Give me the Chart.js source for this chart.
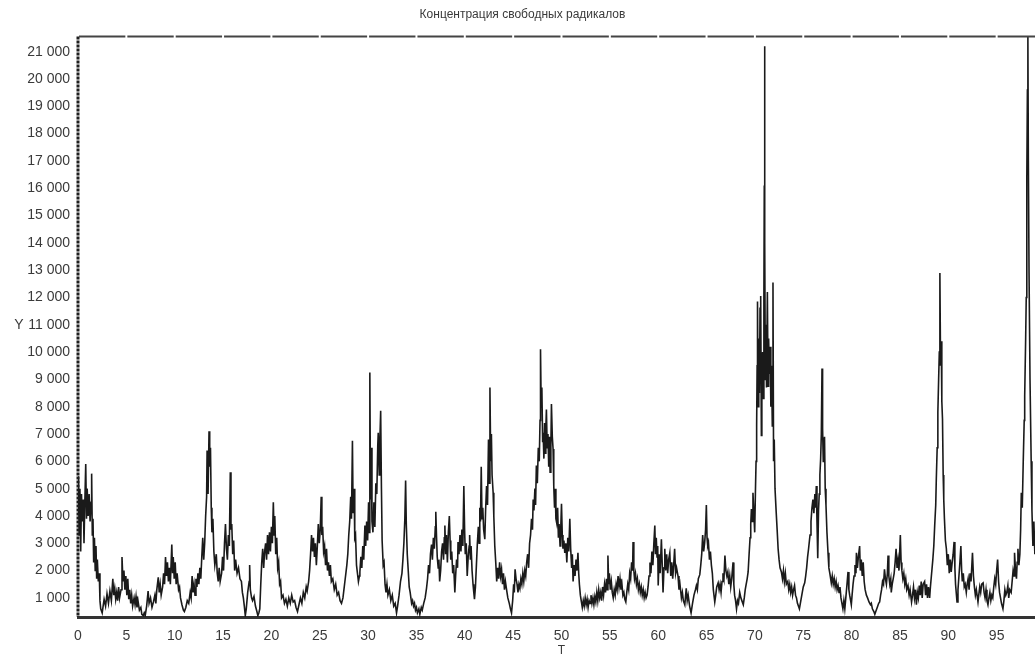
<!DOCTYPE html>
<html>
<head>
<meta charset="utf-8">
<script src="https://cdn.jsdelivr.net/npm/chart.js@4"></script>
<style>
  html, body { margin: 0; padding: 0; background: #fff; overflow: hidden; }
  #wrap { width: 1045px; height: 657px; }
</style>
</head>
<body>
<div id="wrap"><canvas id="chart"></canvas></div>
<script>
// Концентрация свободных радикалов
const chartTitle = 'Концентрация свободных радикалов';
const xTitle = 'T';
const yTitle = 'Y';
const yTitleAt = 11000;

const xTickValues = [0, 5, 10, 15, 20, 25, 30, 35, 40, 45, 50, 55, 60, 65, 70, 75, 80, 85, 90, 95];
const yTickValues = [1000, 2000, 3000, 4000, 5000, 6000, 7000, 8000, 9000, 10000, 11000,
  12000, 13000, 14000, 15000, 16000, 17000, 18000, 19000, 20000, 21000];

// [T, Y]
const radicals = [
  [0,4100],[0.05,5450],[0.12,3300],[0.2,5000],[0.28,2700],[0.36,4800],[0.45,3800],[0.55,4600],[0.62,3000],[0.7,4400],
  [0.8,5900],[0.88,3900],[0.95,5000],[1.05,4000],[1.15,4800],[1.25,3800],[1.35,4500],[1.41,5550],[1.48,3300],[1.55,3900],
  [1.62,2300],[1.7,3200],[1.78,2000],[1.86,2900],[1.93,1700],[2.0,2400],[2.1,1600],[2.2,1900],[2.27,900],[2.35,600],
  [2.5,450],[2.7,950],[2.85,700],[3.0,1150],[3.15,800],[3.3,1250],[3.45,900],[3.6,1700],[3.7,1100],[3.8,1350],
  [3.9,950],[4.0,1200],[4.1,900],[4.2,1400],[4.3,1000],[4.45,1300],[4.55,2500],[4.65,1600],[4.75,2000],[4.85,1300],
  [4.95,1800],[5.05,1100],[5.15,1700],[5.25,950],[5.35,1300],[5.45,800],[5.55,1100],[5.65,700],[5.8,1000],[5.9,750],
  [6.0,1050],[6.1,650],[6.2,900],[6.35,550],[6.5,650],[6.6,400],[6.75,350],[6.85,450],[6.95,350],
  [7.1,700],[7.25,1250],[7.35,800],[7.5,1000],[7.65,650],[7.8,850],[7.95,1100],[8.05,800],[8.15,1300],[8.3,1750],
  [8.4,1200],[8.5,1500],[8.6,1100],[8.75,1400],[8.85,1900],[8.95,1500],[9.05,2500],[9.15,1800],[9.25,2300],[9.35,1600],
  [9.45,2100],[9.55,1500],[9.7,2950],[9.78,1900],[9.85,2500],[9.95,1700],[10.05,2300],[10.15,1500],[10.25,1900],[10.4,1300],
  [10.5,1400],[10.6,1000],[10.75,750],[10.9,550],[11.0,500],
  [11.15,650],[11.3,900],[11.45,800],[11.6,1200],[11.7,1000],[11.8,1800],[11.9,1200],[12.0,1500],[12.1,1100],[12.2,1700],
  [12.3,1400],[12.4,1900],[12.5,1500],[12.6,2100],[12.7,1700],[12.8,2500],[12.9,3200],[13.0,2400],[13.1,3000],[13.2,4000],
  [13.3,4700],[13.35,6400],[13.45,4800],[13.55,7100],[13.62,5800],[13.7,6500],[13.78,4300],[13.85,3400],[13.95,3900],[14.05,2700],
  [14.15,2200],[14.3,2600],[14.4,1900],[14.5,1600],[14.6,2100],[14.7,1600],[14.85,1900],[14.95,2500],[15.05,2000],[15.15,3000],
  [15.25,3700],[15.35,2800],[15.45,2400],[15.55,3300],[15.65,2900],[15.75,5600],[15.82,3500],[15.9,3700],[16.0,2600],[16.1,3100],
  [16.2,2000],[16.3,2400],[16.45,1900],[16.6,2100],[16.75,1700],[16.9,1600],[17.0,1200],[17.1,1000],[17.2,700],[17.3,350],
  [17.4,600],[17.55,1200],[17.7,1600],[17.75,2200],[17.82,1300],[17.95,1000],[18.05,900],[18.2,1050],[18.35,700],[18.5,500],
  [18.6,350],[18.7,450],[18.8,600],
  [18.9,1500],[19.0,2300],[19.1,2800],[19.2,2100],[19.3,2700],[19.4,3000],[19.5,2400],[19.6,3300],[19.7,2600],[19.8,3400],
  [19.9,2700],[20.0,3600],[20.1,3000],[20.2,4500],[20.28,3300],[20.35,4000],[20.45,2600],[20.55,3200],[20.65,2100],[20.75,2300],
  [20.85,1500],[20.95,1600],[21.05,1000],[21.2,1100],[21.35,800],[21.5,950],[21.65,700],[21.8,1000],[21.95,800],[22.1,1100],
  [22.25,850],[22.4,900],[22.55,650],[22.7,500],[22.85,750],[23.0,1000],[23.15,800],[23.3,1200],[23.45,1000],[23.6,1400],
  [23.7,1250],[23.85,1600],[23.95,2000],
  [24.05,2600],[24.15,3300],[24.25,2700],[24.35,3200],[24.45,2500],[24.55,3000],[24.65,2200],[24.75,2900],[24.85,3700],[24.95,3000],
  [25.05,3500],[25.15,4700],[25.22,3300],[25.3,3600],[25.4,2700],[25.5,2900],[25.6,2200],[25.7,2800],[25.8,2000],[25.9,2300],
  [26.0,1800],[26.1,2200],[26.2,1600],[26.35,1700],[26.5,1300],[26.65,1500],[26.8,1100],[26.95,1200],[27.1,900],[27.25,800],
  [27.4,1000],[27.5,1300],[27.6,1600],[27.7,1900],[27.8,2200],[27.9,2600],[28.0,3300],[28.1,3800],[28.2,4700],[28.28,3900],
  [28.38,6750],[28.45,4100],[28.55,5000],[28.62,3200],[28.7,3300],[28.8,2200],[28.9,1900],[29.0,1600],[29.1,1800],
  [29.15,1950],[29.25,2500],[29.35,2100],[29.45,2900],[29.55,2400],[29.67,3650],[29.75,2900],[29.85,3800],[29.95,3100],[30.05,4500],
  [30.12,3400],[30.18,9250],[30.25,4600],[30.32,6500],[30.4,3800],[30.5,3400],[30.6,4500],[30.7,3600],[30.8,5200],[30.9,4800],
  [31.0,6600],[31.05,7050],[31.15,5500],[31.22,6800],[31.3,7850],[31.38,5000],[31.45,3100],[31.56,2200],[31.65,2300],[31.75,1500],
  [31.85,1200],[31.95,1500],[32.05,1100],[32.2,1300],[32.35,900],[32.5,1100],[32.65,700],[32.8,800],[32.94,450],[33.05,700],
  [33.2,1100],[33.35,1600],[33.5,1900],[33.6,2400],[33.7,3000],[33.8,3900],[33.88,5300],[33.95,3700],[34.05,2600],[34.15,2000],
  [34.25,1400],[34.35,1200],[34.5,800],[34.6,900],[34.7,700],[34.8,800],[34.9,550],[35.0,650],[35.1,450],[35.25,600],
  [35.35,400],[35.5,650],[35.6,550],[35.75,800],[35.9,1000],[36.04,1350],[36.15,1700],[36.25,2200],[36.35,1900],[36.45,2600],
  [36.56,2950],[36.65,2400],[36.75,3200],[36.85,2800],[36.95,3600],[37.0,4150],[37.08,3200],[37.15,2500],[37.25,2100],[37.32,2400],
  [37.4,1600],[37.5,2000],[37.6,2700],[37.7,3000],[37.8,2400],[37.88,3200],[37.94,3650],[38.02,2600],[38.1,3300],[38.2,2300],
  [38.3,3400],[38.4,4000],[38.48,3100],[38.55,2400],[38.65,2700],[38.75,1900],[38.85,2200],[38.97,1200],[39.05,1800],[39.15,2400],
  [39.25,2100],[39.3,3050],[39.4,2600],[39.5,3300],[39.6,2700],[39.7,3500],[39.8,2900],[39.9,5100],[39.98,3500],[40.05,2600],
  [40.15,3000],[40.25,1800],[40.35,2500],[40.45,2900],[40.5,3300],[40.58,2400],[40.65,2900],[40.75,2000],[40.85,1500],[40.93,1200],
  [41.0,950],[41.1,1400],[41.2,2200],[41.3,3000],[41.4,3600],[41.48,3000],[41.55,4300],[41.62,3800],[41.7,5800],[41.78,3900],
  [41.86,4300],[41.95,3500],[42.07,3150],[42.15,4200],[42.25,5100],[42.35,4400],[42.45,6800],[42.52,5200],[42.6,8700],[42.68,6000],
  [42.75,7000],[42.82,5500],[42.93,4850],[43.0,4000],[43.1,2900],[43.2,2300],[43.3,1600],[43.4,2100],[43.5,1700],[43.6,2300],
  [43.7,1800],[43.8,2050],[43.9,1500],[44.0,1900],[44.1,1300],[44.2,1600],[44.3,1350],[44.45,1000],[44.6,800],[44.72,600],
  [44.83,450],[44.95,900],[45.05,1500],[45.12,1200],[45.2,2050],[45.3,1700],[45.4,1500],[45.5,1200],[45.6,1500],[45.7,1350],
  [45.8,1700],[45.9,1500],[46.0,1900],[46.1,1600],[46.2,2000],[46.3,1800],[46.4,2300],[46.5,2600],[46.6,2100],[46.7,3000],
  [46.8,3300],[46.9,3900],[47.0,3500],[47.07,4600],[47.15,4200],[47.25,5000],[47.32,4400],[47.4,5850],[47.5,5200],[47.6,6500],
  [47.7,6000],[47.78,7500],[47.83,10100],[47.9,8000],[47.97,8700],[48.05,6700],[48.1,7050],[48.18,6100],[48.25,7400],[48.32,6300],
  [48.38,7200],[48.44,7900],[48.52,6500],[48.6,7000],[48.68,5800],[48.75,6900],[48.82,5600],[48.9,6500],[48.96,8100],[49.05,6900],
  [49.13,6450],[49.2,5100],[49.28,4300],[49.35,5000],[49.42,3900],[49.5,3750],[49.6,4300],[49.68,3200],[49.75,3700],[49.85,2900],
  [49.92,3500],[50.0,4450],[50.08,3300],[50.15,2800],[50.25,3100],[50.34,2650],[50.45,3000],[50.55,2300],[50.65,3200],[50.75,2700],
  [50.86,3900],[50.95,2800],[51.05,2100],[51.12,2600],[51.2,1600],[51.3,2200],[51.4,1800],[51.5,2400],[51.6,2000],[51.7,2650],
  [51.78,1900],[51.85,1500],[51.95,1100],[52.06,850],[52.15,650],
  [52.25,900],[52.35,700],[52.45,1000],[52.55,750],[52.65,950],[52.75,650],[52.85,900],[52.95,800],[53.05,1100],[53.15,800],
  [53.25,1000],[53.35,750],[53.45,1050],[53.55,850],[53.65,1200],[53.75,900],[53.85,1300],[53.95,1000],[54.05,1200],[54.15,900],
  [54.25,1400],[54.35,1100],[54.45,1500],[54.55,1200],[54.65,1700],[54.72,1300],[54.8,2550],[54.88,1500],[54.95,1900],[55.05,1300],
  [55.15,1600],[55.25,1200],[55.35,1000],[55.45,1300],[55.55,1100],[55.65,1500],[55.75,1300],[55.85,1800],[55.95,1400],[56.05,1700],
  [56.15,1300],[56.25,1500],[56.35,1100],[56.45,1200],[56.55,950],[56.65,850],[56.75,1200],[56.85,1500],[56.95,1300],[57.05,1900],
  [57.15,1700],[57.25,2300],[57.35,2000],[57.4,3050],[57.48,2000],[57.55,1700],[57.65,1900],[57.75,1500],[57.85,1700],[57.95,1300],
  [58.05,1500],[58.15,1200],[58.25,1400],[58.35,1100],[58.45,1300],[58.55,1000],[58.65,1200],[58.75,1000],[58.85,1100],[58.95,1400],
  [59.05,1800],[59.15,2300],[59.25,1900],[59.35,2700],[59.45,2200],[59.55,3000],[59.65,3650],[59.72,2600],[59.8,3200],[59.88,2500],
  [59.95,2900],
  [60.0,1450],[60.1,2600],[60.2,1900],[60.33,3150],[60.42,2200],[60.5,1200],[60.6,2100],[60.68,2800],[60.78,2000],[60.88,2600],
  [60.98,1900],[61.08,2400],[61.2,2650],[61.3,1800],[61.4,2300],[61.5,1700],[61.6,2200],[61.7,2800],[61.8,1900],[61.9,2100],
  [62.05,1800],[62.15,1300],[62.25,1500],[62.4,1000],[62.5,1200],[62.6,900],[62.75,750],[62.9,1350],[63.0,900],[63.1,1100],
  [63.25,700],[63.4,450],[63.55,800],[63.7,1100],[63.85,1300],[63.95,1450],[64.05,1300],[64.15,1700],[64.3,1850],[64.4,2200],
  [64.5,2600],[64.6,3300],[64.7,2700],[64.8,3000],[64.9,3500],[64.98,4400],[65.05,3200],[65.12,2900],[65.2,3000],[65.3,2400],
  [65.4,2700],[65.5,2200],[65.6,1900],[65.7,1300],[65.85,850],[65.95,1100],[66.05,1400],[66.2,1550],[66.3,1300],[66.4,1500],
  [66.5,1200],[66.6,1600],[66.7,1900],[66.8,1700],[66.9,2550],[67.0,2000],[67.1,1800],[67.2,1950],[67.3,1500],[67.4,1800],
  [67.5,1400],[67.6,1700],[67.74,2300],[67.82,1500],[67.9,1100],[68.0,900],[68.1,600],[68.2,900],[68.3,800],[68.43,1200],
  [68.55,1000],[68.65,900],[68.8,750],[68.9,1000],[69.0,1300],[69.1,1500],[69.2,1700],[69.3,1950],[69.4,2600],[69.5,3200],
  [69.57,3700],[69.64,4250],[69.72,3800],[69.8,4850],[69.9,4000],[69.98,3400],[70.05,4800],[70.12,6000],[70.18,7300],[70.23,9500],
  [70.27,11850],[70.33,8000],[70.4,10500],[70.47,8500],[70.53,11600],[70.6,12050],[70.67,6950],[70.72,9000],[70.8,10000],[70.87,8300],
  [70.93,12000],[70.97,16100],[71.0,21200],[71.03,14000],[71.08,9000],[71.14,11000],[71.2,8700],[71.29,12200],[71.36,8750],[71.42,10500],
  [71.5,9200],[71.58,10200],[71.65,8000],[71.72,9500],[71.8,7300],[71.87,12550],[71.93,6000],[72.0,6800],[72.08,5000],[72.2,4150],
  [72.3,3500],[72.4,2800],[72.5,2400],[72.6,2100],[72.74,1950],[72.85,1700],[72.95,2000],[73.05,1600],[73.15,1900],[73.25,1500],
  [73.4,1600],[73.5,1300],[73.6,1500],[73.7,1200],[73.8,1400],[73.9,1100],[74.0,1300],[74.1,1450],[74.2,1100],[74.3,1000],
  [74.4,800],[74.5,700],[74.6,600],[74.7,800],[74.8,1000],[74.9,1200],[75.0,1400],[75.15,1550],[75.25,1800],[75.35,2100],
  [75.45,2500],[75.55,2800],[75.7,3300],[75.8,3800],[75.9,4300],[76.0,4600],[76.1,4100],[76.2,4800],[76.27,4300],[76.35,5100],
  [76.42,3800],[76.5,2450],[76.58,4200],[76.65,4800],[76.72,5500],[76.8,6100],[76.87,7000],[76.94,9400],[77.0,7200],[77.07,6000],
  [77.13,6600],[77.2,6900],[77.27,5000],[77.35,4400],[77.45,3400],[77.56,2650],[77.65,2100],[77.75,1900],[77.9,1550],[78.0,1800],
  [78.1,1500],[78.2,1700],[78.3,1400],[78.4,1600],[78.5,1300],[78.6,1450],[78.7,1200],[78.8,1400],[78.9,1000],[79.0,800],
  [79.1,600],
  [79.2,900],[79.3,600],[79.4,1000],[79.5,1400],[79.63,1950],[79.72,1300],[79.8,1100],[79.9,900],[79.97,750],[80.05,1100],
  [80.15,1500],[80.25,1800],[80.35,2200],[80.45,1900],[80.5,2650],[80.6,2100],[80.7,2500],[80.83,2900],[80.9,2000],[81.0,2400],
  [81.1,1800],[81.2,2300],[81.3,1600],[81.4,1300],[81.53,1100],[81.65,1000],[81.8,850],[81.95,750],[82.04,800],[82.15,600],
  [82.3,500],[82.4,400],[82.5,500],[82.65,650],[82.8,800],[82.9,850],[83.0,1100],[83.1,1300],[83.2,1600],[83.3,1500],
  [83.4,2050],[83.5,1700],[83.6,1500],[83.7,1900],[83.77,2550],[83.85,1800],[83.95,1500],[84.05,1700],[84.1,1200],[84.2,1500],
  [84.3,1700],[84.4,1900],[84.5,2300],[84.6,2800],[84.7,2100],[84.8,2400],[84.9,2000],[85.04,3300],[85.12,2300],[85.2,2000],
  [85.3,1700],[85.4,1900],[85.5,1500],[85.6,1700],[85.7,1300],[85.83,1450],[85.95,1100],[86.05,1300],[86.2,850],[86.3,1100],
  [86.4,1400],[86.5,1000],[86.6,1300],[86.7,750],[86.8,1200],[86.9,1000],[87.0,1450],[87.1,1100],[87.2,1600],[87.3,1000],
  [87.4,1500],[87.55,1600],[87.65,1100],[87.75,1500],[87.85,1000],[87.95,1400],[88.07,1000],[88.15,1400],[88.25,1800],[88.4,2400],
  [88.5,2900],[88.6,3700],[88.7,4400],[88.76,5350],[88.85,6500],[88.92,7800],[89.0,9000],[89.07,10000],[89.13,12900],[89.2,9500],
  [89.27,10400],[89.33,8200],[89.4,7550],[89.47,5500],[89.53,4600],[89.6,3900],[89.7,3100],[89.8,2800],[89.9,2200],[90.0,2600],
  [90.1,1900],[90.2,2400],[90.3,1950],[90.4,2300],[90.5,2600],[90.6,3050],[90.68,2100],[90.75,1500],[90.9,850],[91.0,1300],
  [91.1,1800],[91.2,2300],[91.3,2900],[91.38,2000],[91.45,1600],[91.55,1900],[91.65,1400],[91.75,1500],[91.86,1200],[91.95,1500],
  [92.05,1700],[92.15,1300],[92.25,1900],[92.35,1600],[92.5,2650],[92.6,1800],[92.7,1400],[92.8,1100],[92.9,1300],[93.07,850],
  [93.15,1100],[93.25,1400],[93.35,1200],[93.45,1500],[93.6,1550],[93.7,1200],[93.8,1000],[93.9,1300],[94.0,900],[94.1,750],
  [94.2,1000],[94.3,1200],[94.4,900],[94.5,1100],[94.6,1000],[94.7,1400],[94.8,1700],[94.9,1500],[95.0,2000],[95.1,2400],
  [95.2,1600],[95.3,1200],[95.4,1000],[95.5,800],[95.65,600],[95.75,900],[95.85,1300],[95.95,1100],[96.05,1200],[96.16,1450],
  [96.25,1000],[96.35,1300],[96.5,1200],[96.6,1600],[96.7,2000],[96.8,1800],[96.85,2650],[96.95,2000],[97.05,1700],[97.12,2300],
  [97.2,2800],[97.3,2200],[97.4,2600],[97.48,3500],[97.55,4850],[97.65,4300],[97.75,6000],[97.85,7500],[97.9,8400],[98.0,10500],
  [98.06,12000],[98.12,16400],[98.18,19600],[98.23,21550],[98.28,17000],[98.35,12900],[98.45,9000],[98.57,6000],[98.65,4200],[98.75,2900],
  [98.85,3800],[98.95,2600],[99.1,3000],[99.3,2200],[99.6,2800],[99.9,2000]
];

const fmtThousands = (v) => String(v).replace(/\B(?=(\d{3})+(?!\d))/g, ' ');

const TEXT = '#3a3a3a';
const FONT = 'Liberation Sans, Arial, sans-serif';

// dashed left axis, broken top frame line, and the horizontal "Y" next to 11 000
const framePlugin = {
  id: 'frame',
  afterDraw(chart) {
    const { ctx, chartArea: a, scales } = chart;
    ctx.save();
    // left axis — dark, finely dashed
    ctx.strokeStyle = '#1e1e1e';
    ctx.lineWidth = 3;
    ctx.setLineDash([3, 1]);
    ctx.beginPath();
    ctx.moveTo(a.left, a.top);
    ctx.lineTo(a.left, a.bottom);
    ctx.stroke();
    // top frame — broken at every x tick
    ctx.strokeStyle = '#444';
    ctx.lineWidth = 2;
    ctx.setLineDash([]);
    const xs = scales.x;
    const step = xs.getPixelForValue(5) - xs.getPixelForValue(0);
    ctx.beginPath();
    for (let v = 0; v < xs.max; v += 5) {
      const p = xs.getPixelForValue(v);
      ctx.moveTo(p + 1, a.top);
      ctx.lineTo(Math.min(p + step - 1, a.right), a.top);
    }
    ctx.stroke();
    // "Y"
    ctx.font = '14px ' + FONT;
    ctx.fillStyle = TEXT;
    ctx.textAlign = 'center';
    ctx.textBaseline = 'middle';
    ctx.fillText(yTitle, 19, scales.y.getPixelForValue(yTitleAt));
    ctx.restore();
  },
};

new Chart(document.getElementById('chart'), {
  type: 'line',
  data: {
    datasets: [{
      data: radicals.map(([t, v]) => ({ x: t, y: v })),
      borderColor: '#1a1a1a',
      borderWidth: 1.6,
      pointRadius: 0,
      tension: 0,
      fill: false,
    }],
  },
  options: {
    responsive: true,
    maintainAspectRatio: false,
    animation: false,
    layout: { padding: 0 },
    plugins: {
      legend: { display: false },
      tooltip: { enabled: false },
      title: {
        display: true,
        text: chartTitle,
        color: TEXT,
        font: { family: FONT, size: 12, weight: 'normal' },
        padding: { top: 7, bottom: 15 },
      },
    },
    scales: {
      x: {
        type: 'linear',
        min: 0,
        max: 100,
        grid: { display: false, drawTicks: false },
        border: { display: true, color: '#333', width: 3 },
        afterBuildTicks: (s) => { s.ticks = xTickValues.map(v => ({ value: v })); },
        afterFit: (s) => { s.height = 40; },
        ticks: { color: TEXT, padding: 11, font: { family: FONT, size: 14 } },
        title: { display: true, text: xTitle, color: TEXT, padding: { top: 0, bottom: -1 }, font: { family: FONT, size: 12 } },
      },
      y: {
        min: 300,
        max: 21560,
        grid: { display: false, drawTicks: false },
        border: { display: false },
        afterBuildTicks: (s) => { s.ticks = yTickValues.map(v => ({ value: v })); },
        afterFit: (s) => { s.width = 78; },
        ticks: {
          color: TEXT,
          padding: 8,
          font: { family: FONT, size: 14 },
          callback: (v) => fmtThousands(v),
        },
      },
    },
  },
  plugins: [framePlugin],
});
</script>
</body>
</html>
